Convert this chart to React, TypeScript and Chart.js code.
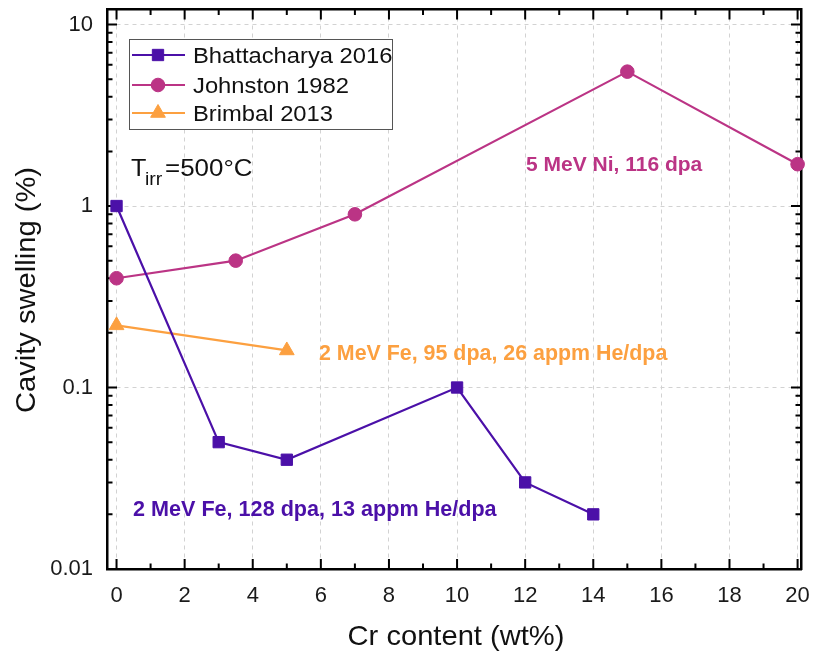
import React, { useEffect, useRef } from 'react';
import { Chart, registerables } from 'chart.js';

Chart.register(...registerables);

// ---- data ----
const CR_BHATTACHARYA = [0, 3, 5, 10, 12, 14];
const SW_BHATTACHARYA = [1.0, 0.05, 0.04, 0.1, 0.03, 0.02];
const CR_JOHNSTON = [0, 3.5, 7, 15, 20];
const SW_JOHNSTON = [0.4, 0.5, 0.9, 5.5, 1.7];
const CR_BRIMBAL = [0, 5];
const SW_BRIMBAL = [0.22, 0.16];
const SERIES_LABELS = ['Bhattacharya 2016', 'Johnston 1982', 'Brimbal 2013'];
const X_TICKS = [0, 2, 4, 6, 8, 10, 12, 14, 16, 18, 20];
const X_MINOR = [1, 3, 5, 7, 9, 11, 13, 15, 17, 19];
const Y_TICKS = [0.01, 0.1, 1, 10];
const Y_TICK_LABELS = ['0.01', '0.1', '1', '10'];
const Y_MINOR_MULT = [2, 3, 4, 5, 6, 7, 8, 9];
const Y_DECADES = [0.01, 0.1, 1];
const X_TITLE = 'Cr content (wt%)';
const Y_TITLE = 'Cavity swelling (%)';
const NOTE_NI = '5 MeV Ni, 116 dpa';
const NOTE_FE95 = '2 MeV Fe, 95 dpa, 26 appm He/dpa';
const NOTE_FE128 = '2 MeV Fe, 128 dpa, 13 appm He/dpa';

const C_PURPLE = '#4b10a8';
const C_MAGENTA = '#bb3485';
const C_ORANGE = '#fca040';
const FONT = '"Liberation Sans", Arial, Helvetica, sans-serif';

function drawText(
  ctx: CanvasRenderingContext2D,
  s: string,
  x: number,
  y: number,
  font: string,
  color: string,
  sx = 1,
  align: CanvasTextAlign = 'left',
  rot = 0
) {
  ctx.save();
  ctx.font = font;
  ctx.fillStyle = color;
  ctx.textAlign = align;
  ctx.textBaseline = 'alphabetic';
  ctx.translate(x, y);
  if (rot) ctx.rotate(rot);
  ctx.scale(sx, 1);
  ctx.fillText(s, 0, 0);
  ctx.restore();
}

function drawMarker(ctx: CanvasRenderingContext2D, style: string, x: number, y: number, r: number, color: string) {
  ctx.save();
  ctx.fillStyle = color;
  ctx.strokeStyle = color;
  ctx.lineWidth = 1;
  ctx.beginPath();
  if (style === 'rect') {
    const s = Math.SQRT1_2 * r;
    ctx.rect(x - s, y - s, 2 * s, 2 * s);
  } else if (style === 'triangle') {
    for (let k = 0; k < 3; k++) {
      const a = (k * 2 * Math.PI) / 3;
      const px = x + Math.sin(a) * r;
      const py = y - Math.cos(a) * r;
      if (k === 0) ctx.moveTo(px, py);
      else ctx.lineTo(px, py);
    }
    ctx.closePath();
  } else {
    ctx.arc(x, y, r, 0, Math.PI * 2);
  }
  ctx.fill();
  ctx.stroke();
  ctx.restore();
}

const framePlugin = {
  id: 'frameExtras',
  beforeDatasetsDraw(chart: any) {
    const { ctx, chartArea, scales } = chart;
    const { left, right, top, bottom } = chartArea;
    const xs = scales.x;
    const ys = scales.y;
    ctx.save();
    ctx.strokeStyle = '#000';
    ctx.lineWidth = 2;
    ctx.beginPath();
    const major = 10;
    const minor = 5.5;
    X_TICKS.forEach((v) => {
      const px = xs.getPixelForValue(v);
      ctx.moveTo(px, bottom);
      ctx.lineTo(px, bottom - major);
      ctx.moveTo(px, top);
      ctx.lineTo(px, top + major);
    });
    X_MINOR.forEach((v) => {
      const px = xs.getPixelForValue(v);
      ctx.moveTo(px, bottom);
      ctx.lineTo(px, bottom - minor);
      ctx.moveTo(px, top);
      ctx.lineTo(px, top + minor);
    });
    Y_TICKS.forEach((v) => {
      const py = ys.getPixelForValue(v);
      ctx.moveTo(left, py);
      ctx.lineTo(left + major, py);
      ctx.moveTo(right, py);
      ctx.lineTo(right - major, py);
    });
    Y_DECADES.forEach((d) => {
      Y_MINOR_MULT.forEach((m) => {
        const py = ys.getPixelForValue(d * m);
        ctx.moveTo(left, py);
        ctx.lineTo(left + minor, py);
        ctx.moveTo(right, py);
        ctx.lineTo(right - minor, py);
      });
    });
    ctx.stroke();
    ctx.restore();
  },
  afterDraw(chart: any) {
    const { ctx } = chart;
    // axis titles
    drawText(ctx, X_TITLE, 456, 645, `28px ${FONT}`, '#111', 1.04, 'center');
    drawText(ctx, Y_TITLE, 35, 290, `28px ${FONT}`, '#111', 1.04, 'center', -Math.PI / 2);

    // legend
    ctx.save();
    ctx.fillStyle = '#fff';
    ctx.fillRect(129, 39, 264, 91);
    ctx.strokeStyle = '#555';
    ctx.lineWidth = 1;
    ctx.strokeRect(129.5, 39.5, 263, 90);
    ctx.restore();
    const rows = [55, 85, 113];
    chart.data.datasets.forEach((ds: any, i: number) => {
      const yy = rows[i];
      ctx.save();
      ctx.strokeStyle = ds.borderColor;
      ctx.lineWidth = 2.2;
      ctx.beginPath();
      ctx.moveTo(132, yy);
      ctx.lineTo(185, yy);
      ctx.stroke();
      ctx.restore();
      drawMarker(ctx, ds.pointStyle, 158, yy, ds.pointRadius, ds.borderColor);
      drawText(ctx, ds.label, 193, yy + 8, `22px ${FONT}`, '#111', 1.08);
    });

    // temperature note
    drawText(ctx, 'T', 131, 176, `24px ${FONT}`, '#111', 1.05);
    drawText(ctx, 'irr', 145, 185, `18px ${FONT}`, '#111', 1.08);
    drawText(ctx, '=500°C', 165, 176, `24px ${FONT}`, '#111', 1.08);

    // condition notes
    drawText(ctx, NOTE_NI, 526, 171, `bold 21px ${FONT}`, C_MAGENTA, 1);
    drawText(ctx, NOTE_FE95, 319, 360, `bold 21.4px ${FONT}`, C_ORANGE, 1);
    drawText(ctx, NOTE_FE128, 133, 516, `bold 21.6px ${FONT}`, C_PURPLE, 1);
  },
};

function toPoints(xs: number[], ys: number[]) {
  return xs.map((x, i) => ({ x, y: ys[i] }));
}

function zeroPad(s: any) {
  s.paddingTop = 0;
  s.paddingBottom = 0;
  s.paddingLeft = 0;
  s.paddingRight = 0;
}

export default function App() {
  const ref = useRef<HTMLCanvasElement | null>(null);

  useEffect(() => {
    const canvas = ref.current;
    if (!canvas) return;
    const tickFont = { family: FONT, size: 22 };
    const chart = new Chart(canvas, {
      type: 'line',
      data: {
        datasets: [
          {
            label: SERIES_LABELS[0],
            data: toPoints(CR_BHATTACHARYA, SW_BHATTACHARYA),
            borderColor: C_PURPLE,
            backgroundColor: C_PURPLE,
            pointStyle: 'rect',
            pointRadius: 8,
            pointBorderWidth: 1,
            borderWidth: 2.2,
            tension: 0,
            clip: false,
          },
          {
            label: SERIES_LABELS[1],
            data: toPoints(CR_JOHNSTON, SW_JOHNSTON),
            borderColor: C_MAGENTA,
            backgroundColor: C_MAGENTA,
            pointStyle: 'circle',
            pointRadius: 6.8,
            pointBorderWidth: 1,
            borderWidth: 2.2,
            tension: 0,
            clip: false,
          },
          {
            label: SERIES_LABELS[2],
            data: toPoints(CR_BRIMBAL, SW_BRIMBAL),
            borderColor: C_ORANGE,
            backgroundColor: C_ORANGE,
            pointStyle: 'triangle',
            pointRadius: 8.5,
            pointBorderWidth: 1,
            borderWidth: 2.2,
            tension: 0,
            clip: false,
          },
        ],
      } as any,
      options: {
        responsive: false,
        animation: false,
        devicePixelRatio: 1,
        layout: { padding: 0 },
        events: [],
        plugins: {
          legend: { display: false },
          tooltip: { enabled: false },
        },
        scales: {
          x: {
            type: 'linear',
            position: 'bottom',
            min: -0.28,
            max: 20.1,
            afterBuildTicks: (s: any) => {
              s.ticks = X_TICKS.map((v) => ({ value: v }));
            },
            afterFit: (s: any) => {
              s.height = 86;
              zeroPad(s);
            },
            ticks: {
              font: tickFont,
              color: '#1a1a1a',
              padding: 14,
              maxRotation: 0,
              autoSkip: false,
              callback: (v: any) => String(v),
            },
            grid: { color: '#d2d2d2', lineWidth: 1, drawTicks: false },
            border: { display: true, color: '#000', width: 2.5, dash: [4, 4] },
          },
          x2: {
            type: 'linear',
            position: 'top',
            min: -0.28,
            max: 20.1,
            ticks: { display: false },
            grid: { display: false, drawTicks: false },
            border: { display: true, color: '#000', width: 2.5 },
            afterFit: (s: any) => {
              s.height = 7;
              zeroPad(s);
            },
          },
          y: {
            type: 'logarithmic',
            position: 'left',
            min: 0.01,
            max: 12.1,
            afterBuildTicks: (s: any) => {
              s.ticks = Y_TICKS.map((v) => ({ value: v, major: true }));
            },
            afterFit: (s: any) => {
              s.width = 107;
              zeroPad(s);
            },
            ticks: {
              font: tickFont,
              color: '#1a1a1a',
              padding: 14,
              autoSkip: false,
              callback: (v: any) => {
                const i = Y_TICKS.findIndex((t) => Math.abs(t - v) < t * 1e-6);
                return i >= 0 ? Y_TICK_LABELS[i] : '';
              },
            },
            grid: { color: '#d2d2d2', lineWidth: 1, drawTicks: false },
            border: { display: true, color: '#000', width: 2.5, dash: [4, 4] },
          },
          y2: {
            type: 'logarithmic',
            position: 'right',
            min: 0.01,
            max: 12.1,
            ticks: { display: false },
            grid: { display: false, drawTicks: false },
            border: { display: true, color: '#000', width: 2.5 },
            afterFit: (s: any) => {
              s.width = 13;
              zeroPad(s);
            },
          },
        },
      } as any,
      plugins: [framePlugin],
    });
    return () => {
      chart.destroy();
    };
  }, []);

  return (
    <div style={{ position: 'absolute', left: 0, top: 0, width: 814, height: 655, background: '#fff' }}>
      <canvas ref={ref} width={814} height={655} style={{ display: 'block' }} />
    </div>
  );
}
